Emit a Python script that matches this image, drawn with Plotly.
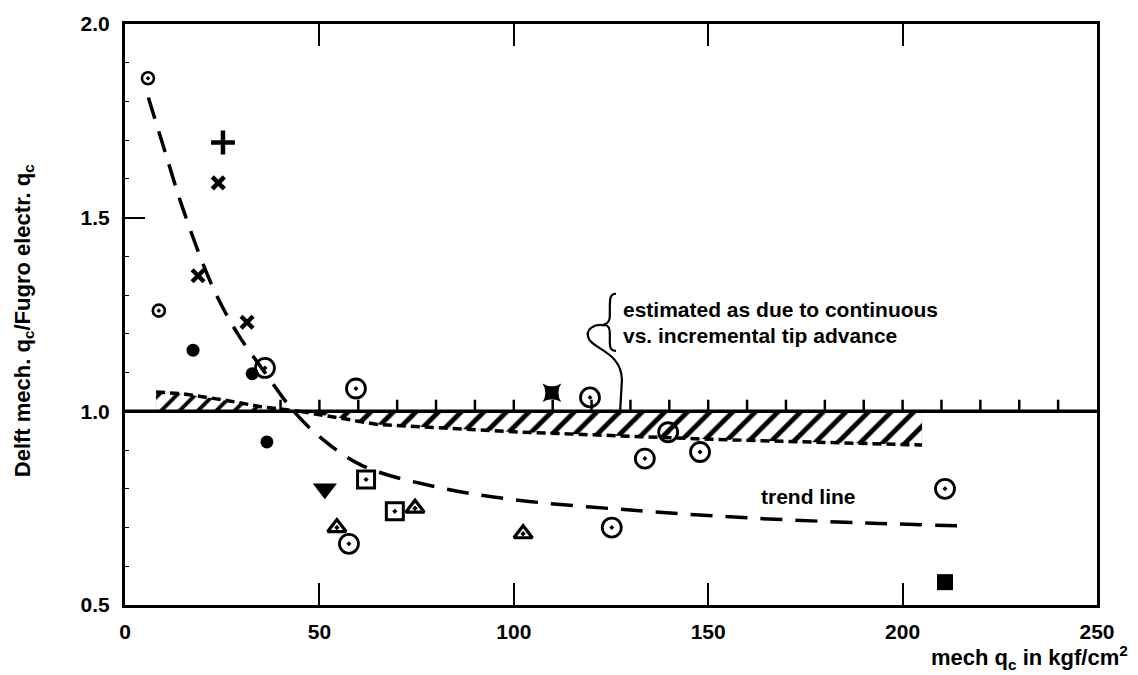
import plotly.graph_objects as go

# ---- data ----
# dotted open circles
circ_x = [36.0, 59.4, 57.6, 119.6, 125.2, 133.7, 139.7, 147.9, 210.9]
circ_y = [1.112, 1.059, 0.658, 1.036, 0.700, 0.878, 0.946, 0.895, 0.800]
# small dotted circles
smallcirc_x = [5.9, 8.7]
smallcirc_y = [1.86, 1.26]
# filled circles
dot_x = [17.5, 32.7, 36.5]
dot_y = [1.158, 1.097, 0.921]
# crosses (x)
cross_x = [24.0, 18.8, 31.4]
cross_y = [1.59, 1.35, 1.23]
# plus
plus_x = [25.2]
plus_y = [1.694]
# filled inverted triangle
tri_dn_x = [51.4]
tri_dn_y = [0.80]
# dotted squares
sq_x = [62.0, 69.4]
sq_y = [0.824, 0.742]
# dotted triangles
tri_x = [54.5, 74.6, 102.4]
tri_y = [0.70, 0.750, 0.684]
# concave filled square
star_x = [109.8]
star_y = [1.048]
# filled square
fsq_x = [210.9]
fsq_y = [0.559]

# trend line
trend_x = [6, 10, 15, 22.6, 29, 36, 43, 50, 61, 80, 100, 130, 160, 190, 216]
trend_y = [1.81, 1.68, 1.52, 1.32, 1.20, 1.10, 1.005, 0.935, 0.86, 0.805, 0.772, 0.745, 0.725, 0.712, 0.704]

# hatched band (continuous vs incremental tip advance)
band_lo_x = [45, 65, 100, 150, 205]
band_lo_y = [1.0, 0.966, 0.947, 0.928, 0.913]
band_hi_x = [8, 15, 25, 35, 45]
band_hi_y = [1.05, 1.045, 1.03, 1.012, 1.0]

# small ticks along the 1.0 line
ref_ticks = list(range(40, 250, 10))

FONT = "Liberation Sans"

fig = go.Figure()

# hatched band: lower part
fig.add_trace(go.Scatter(
    x=[band_lo_x[0]] + band_lo_x + [band_lo_x[-1], band_lo_x[0]],
    y=[1.0] + band_lo_y + [1.0, 1.0],
    mode="lines", line=dict(color="black", width=0.1),
    fill="toself", fillcolor="white",
    fillpattern=dict(shape="/", fgcolor="black", bgcolor="white", fgopacity=1,
                     size=16, solidity=0.3),
    hoverinfo="skip", showlegend=False))
fig.add_trace(go.Scatter(x=band_lo_x, y=band_lo_y, mode="lines",
                         line=dict(color="black", width=3.5, dash="9px,5px"),
                         hoverinfo="skip", showlegend=False))
# hatched band: upper-left part
fig.add_trace(go.Scatter(
    x=band_hi_x + [band_hi_x[-1], band_hi_x[0], band_hi_x[0]],
    y=band_hi_y + [1.0, 1.0, band_hi_y[0]],
    mode="lines", line=dict(color="black", width=0.1),
    fill="toself", fillcolor="white",
    fillpattern=dict(shape="/", fgcolor="black", bgcolor="white", fgopacity=1,
                     size=13, solidity=0.3),
    hoverinfo="skip", showlegend=False))
fig.add_trace(go.Scatter(x=band_hi_x, y=band_hi_y, mode="lines",
                         line=dict(color="black", width=3.5, dash="9px,5px"),
                         hoverinfo="skip", showlegend=False))

# reference line at 1.0
fig.add_hline(y=1.0, line=dict(color="black", width=3.5))
tx, ty = [], []
for t in ref_ticks:
    tx += [t, t, None]
    ty += [1.0, 1.03, None]
fig.add_trace(go.Scatter(x=tx, y=ty, mode="lines", line=dict(color="black", width=2.5),
                         connectgaps=False, hoverinfo="skip", showlegend=False))

# trend line
fig.add_trace(go.Scatter(x=trend_x, y=trend_y, mode="lines",
                         line=dict(color="black", width=3.5, dash="22px,13px", shape="spline"),
                         showlegend=False))

def pts(x, y, symbol, size, lw=2, color="black"):
    fig.add_trace(go.Scatter(x=x, y=y, mode="markers", showlegend=False,
                             marker=dict(symbol=symbol, size=size, color=color,
                                         line=dict(color="black", width=lw))))

pts(circ_x, circ_y, "circle-open-dot", 19, 2.8)
pts(smallcirc_x, smallcirc_y, "circle-open-dot", 12, 2.6)
pts(dot_x, dot_y, "circle", 13, 0)
pts(cross_x, cross_y, "x-thin-open", 12, 4.5)
pts(plus_x, plus_y, "cross-thin-open", 17, 4.5)
pts(tri_dn_x, tri_dn_y, "triangle-down", 21, 0)
pts(sq_x, sq_y, "square-open-dot", 17, 3)
pts(tri_x, tri_y, "triangle-up-open-dot", 16, 3.2)
pts(star_x, star_y, "star-square", 17, 0)
pts(fsq_x, fsq_y, "square", 16, 0)

# brace and leader
brace = ("M 126.3 1.3036 C 124.7 1.3036 124.7 1.291 124.7 1.265 L 124.7 1.247 "
         "C 124.7 1.232 124.2 1.227 123.2 1.2245 C 124.2 1.222 124.7 1.217 124.7 1.2015 "
         "L 124.7 1.176 C 124.7 1.161 125.2 1.156 126.3 1.156")
leader = ("M 123.5 1.222 C 120.9 1.227 118.0 1.214 119.4 1.185 "
          "C 120.9 1.160 127.8 1.150 127.8 1.080 L 127.3 0.992")
fig.add_shape(type="path", path=brace, line=dict(color="black", width=2.2))
fig.add_shape(type="path", path=leader, line=dict(color="black", width=2.2))

fig.add_annotation(x=127.6, y=1.262, text="estimated as due to continuous", showarrow=False,
                   xanchor="left", yanchor="middle",
                   font=dict(family=FONT, size=21, color="black", weight="bold"))
fig.add_annotation(x=127.6, y=1.196, text="vs. incremental tip advance", showarrow=False,
                   xanchor="left", yanchor="middle",
                   font=dict(family=FONT, size=21, color="black", weight="bold"))
fig.add_annotation(x=163, y=0.78, text="trend line", showarrow=False,
                   xanchor="left", yanchor="middle",
                   font=dict(family=FONT, size=21, color="black", weight="bold"))

# axis titles
fig.add_annotation(xref="paper", yref="paper", x=1.034, y=-0.06,
                   text="mech q<sub>c</sub> in kgf/cm<sup>2</sup>", showarrow=False,
                   xanchor="right", yanchor="top",
                   font=dict(family=FONT, size=22, color="black", weight="bold"))
fig.add_annotation(xref="paper", yref="paper", x=-0.104, y=0.49,
                   text="Delft mech. q<sub>c</sub>/Fugro electr. q<sub>c</sub>", showarrow=False,
                   textangle=-90, xanchor="center", yanchor="middle",
                   font=dict(family=FONT, size=22, color="black", weight="bold"))

fig.update_xaxes(range=[0, 250], dtick=50, tick0=0, ticks="inside", ticklen=22, tickwidth=2,
                 tickcolor="black", showline=True, linewidth=3, linecolor="black",
                 mirror="ticks", showgrid=False, zeroline=False, ticklabelstandoff=6,
                 tickfont=dict(family=FONT, size=21, color="black", weight="bold"))
fig.update_yaxes(range=[0.5, 2.0], dtick=0.5, tick0=0.5, ticks="inside", ticklen=20, tickwidth=2,
                 tickcolor="black", showline=True, linewidth=3, linecolor="black",
                 mirror=True, showgrid=False, zeroline=False, tickformat=".1f",
                 ticklabelstandoff=8,
                 minor=dict(ticks="inside", ticklen=4, dtick=0.1, tickcolor="black", tickwidth=1),
                 tickfont=dict(family=FONT, size=21, color="black", weight="bold"))

fig.update_layout(width=1138, height=675, margin=dict(l=125, r=41, t=17, b=70),
                  paper_bgcolor="white", plot_bgcolor="white", showlegend=False)

fig.write_html("out.html")
